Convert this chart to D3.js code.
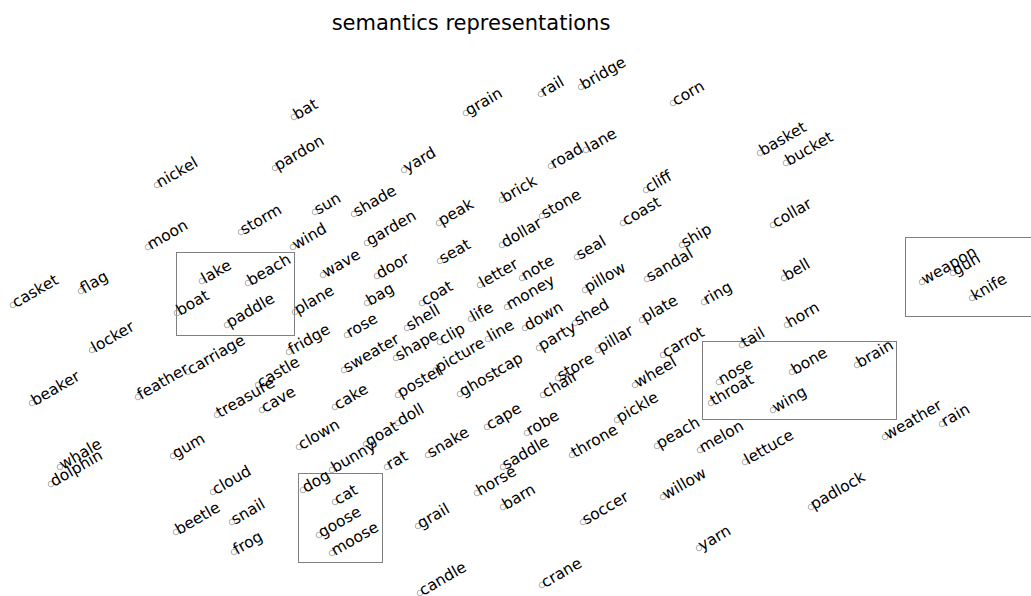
<!DOCTYPE html>
<html>
<head>
<meta charset="utf-8">
<script src="https://cdn.jsdelivr.net/npm/d3@7"></script>
<style>
  body { margin: 0; background: #fff; }
  svg { display: block; font-family: "DejaVu Sans", sans-serif; }
</style>
</head>
<body>
<div id="chart"></div>
<script>
// words and their 2d embedding coordinates
var words = ["bat","pardon","nickel","sun","storm","moon","wind","grain","rail","bridge",
  "corn","yard","road","lane","shade","brick","stone","cliff","coast","peak",
  "garden","dollar","seal","basket","bucket","collar","ship","casket","flag","lake",
  "beach","boat","paddle","locker","plane","wave","fridge","carriage","feather","beaker",
  "castle","treasure","cave","seat","door","bag","coat","letter","note","sandal",
  "money","pillow","rose","shell","life","down","shed","plate","sweater","shape",
  "clip","line","party","pillar","carrot","picture","cap","store","wheel","poster",
  "ghost","chair","cake","doll","goat","cape","robe","pickle","bell","ring",
  "horn","tail","nose","throat","bone","brain","wing","weapon","gun","knife",
  "weather","rain","whale","dolphin","gum","clown","cloud","beetle","snail","frog",
  "dog","bunny","cat","goose","moose","rat","snake","saddle","horse","barn",
  "throne","peach","willow","grail","soccer","candle","crane","melon","lettuce","padlock",
  "yarn"];

var xs = [29.4,27.5,15.7,31.5,24.1,14.8,29.3,46.6,54.1,58.1,
  67.3,40.4,55.1,58.6,35.4,50.2,54.2,64.6,62.3,43.9,
  36.7,50.2,57.7,76.0,78.6,77.3,68.2,1.3,8.1,20.2,
  24.8,17.7,22.7,9.2,29.5,32.3,28.9,18.8,13.8,3.2,
  25.8,21.7,26.2,44.0,37.7,36.7,42.2,48.0,52.2,64.7,
  50.7,58.5,34.7,40.7,47.1,52.5,57.5,64.2,34.4,39.6,
  44.0,48.8,53.9,59.8,66.3,43.6,49.7,55.8,63.5,39.8,
  46.0,54.3,33.5,39.8,36.6,48.7,52.7,61.7,78.4,70.4,
  78.7,74.2,71.9,71.1,79.2,85.7,77.3,92.2,95.3,97.2,
  88.5,94.2,6.0,5.1,17.3,29.9,21.3,17.6,23.2,23.4,
  30.3,33.2,33.5,31.9,33.2,38.7,42.8,50.3,47.7,50.3,
  57.2,65.7,66.3,41.8,58.3,42.0,54.2,70.0,74.5,81.1,
  69.9];

var ys = [47.9,42.8,41.1,38.4,36.4,34.9,34.9,48.3,50.2,50.9,
  49.3,42.6,43.0,44.6,38.2,39.6,38.0,40.6,37.3,37.3,
  35.3,35.1,33.9,44.3,43.3,37.1,35.1,29.1,30.5,31.5,
  31.3,28.3,27.1,24.6,28.4,32.1,24.4,22.4,19.9,19.3,
  21.1,18.1,18.6,33.5,32.0,29.3,29.3,31.1,31.8,31.7,
  28.9,30.6,26.1,26.8,27.7,26.8,27.3,27.6,22.6,23.8,
  25.4,25.7,24.8,24.6,24.1,22.6,22.4,21.8,21.1,20.1,
  20.2,20.1,18.9,17.3,15.2,16.9,16.3,17.6,31.8,29.4,
  27.1,25.1,21.4,19.3,22.4,23.1,18.6,31.4,32.3,29.8,
  15.9,17.2,12.9,11.2,14.0,14.9,10.4,6.4,7.4,4.4,
  10.6,12.6,9.4,6.1,4.3,12.9,14.1,12.9,10.3,8.9,
  14.1,15.0,9.9,7.0,7.4,0.3,1.1,14.6,13.4,8.9,
  4.8];

// highlighted groups: [x0, x1, yTop, yBottom]
var groupNames = ["water", "body", "weapons", "animals"];
var groupBoxes = [[17.6, 29.4, 34.4, 26.1],
  [70.2, 89.6, 25.5, 17.7],
  [90.5, 104, 35.9, 28.0],
  [29.8, 38.2, 12.3, 3.4]];

var title = "semantics representations";

var width = 1031, height = 596;

var x = d3.scaleLinear().domain([0, 103.1]).range([0, width]);
var y = d3.scaleLinear().domain([0, 59.6]).range([height, 0]);

// snap box edges to half pixels so the 1px line stays sharp
var crisp = v => Math.round(v) + 0.5;

var svg = d3.select("#chart").append("svg")
  .attr("width", width)
  .attr("height", height);

svg.append("text")
  .attr("x", 471)
  .attr("y", 30)
  .attr("text-anchor", "middle")
  .style("font-size", "21px")
  .attr("fill", "#000")
  .text(title);

svg.selectAll("rect.group").data(groupBoxes)
  .enter().append("rect")
  .attr("class", "group")
  .attr("x", d => crisp(x(d[0])))
  .attr("y", d => crisp(y(d[2])))
  .attr("width", d => Math.round(x(d[1]) - x(d[0])))
  .attr("height", d => Math.round(y(d[3]) - y(d[2])))
  .attr("fill", "none")
  .attr("stroke", "#808080")
  .attr("stroke-width", 1);

var pts = words.map((w, i) => ({word: w, x: xs[i], y: ys[i]}));

svg.selectAll("circle.pt").data(pts)
  .enter().append("circle")
  .attr("class", "pt")
  .attr("cx", d => x(d.x))
  .attr("cy", d => y(d.y))
  .attr("r", 2.8)
  .attr("fill", "none")
  .attr("stroke", "#999")
  .attr("stroke-width", 0.8);

svg.selectAll("text.word").data(pts)
  .enter().append("text")
  .attr("class", "word")
  .attr("transform", d => `translate(${x(d.x) + 3},${y(d.y) + 3}) rotate(-30)`)
  .style("font-size", "15.5px")
  .attr("fill", "#000")
  .text(d => d.word);
</script>
</body>
</html>
